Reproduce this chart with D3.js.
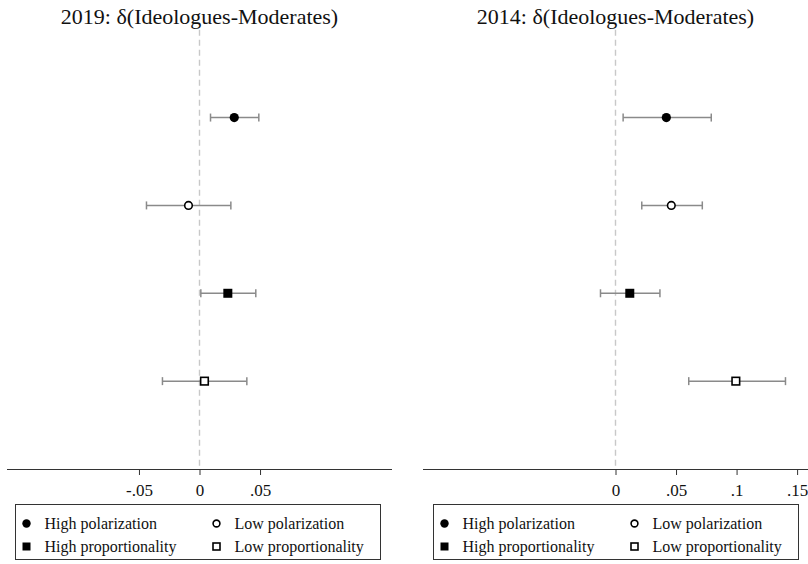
<!DOCTYPE html>
<html>
<head>
<meta charset="utf-8">
<script src="https://cdn.jsdelivr.net/npm/d3@7"></script>
<style>
  html, body { margin: 0; padding: 0; background: #fff; }
  svg { display: block; }
  text { font-family: "Liberation Serif", "Times New Roman", serif; fill: #111; }
</style>
</head>
<body>
<svg id="chart" width="808" height="564"></svg>
<script>
// ---- Data ----
const groups = ["High polarization", "Low polarization", "High proportionality", "Low proportionality"];
const symbols = ["circleFilled", "circleOpen", "squareFilled", "squareOpen"];

const titles = ["2019: δ(Ideologues-Moderates)", "2014: δ(Ideologues-Moderates)"];

const est2019 = [0.0287, -0.0091, 0.0234, 0.0041];
const lo2019  = [0.0091, -0.0438, 0.0011, -0.0306];
const hi2019  = [0.0490, 0.0259, 0.0465, 0.0391];

const est2014 = [0.0420, 0.0461, 0.0118, 0.0994];
const lo2014  = [0.0063, 0.0217, -0.0124, 0.0605];
const hi2014  = [0.0791, 0.0717, 0.0367, 0.1404];

const ticks2019 = [-0.05, 0, 0.05];
const tickLabels2019 = ["-.05", "0", ".05"];
const ticks2014 = [0, 0.05, 0.1, 0.15];
const tickLabels2014 = ["0", ".05", ".1", ".15"];

const xDomain = [-0.159, 0.159];

// ---- Drawing ----
const svg = d3.select("#chart");

const panels = [
  { title: titles[0], est: est2019, lo: lo2019, hi: hi2019, ticks: ticks2019, labels: tickLabels2019, x0: 7, x1: 392, legendX: 15 },
  { title: titles[1], est: est2014, lo: lo2014, hi: hi2014, ticks: ticks2014, labels: tickLabels2014, x0: 423, x1: 808, legendX: 433 }
];

const y = d3.scaleLinear().domain([0, 5]).range([29.7, 469]);
const axisY = 469;

function drawSymbol(g, type, cx, cy, big) {
  const r = big ? 4.6 : 4.2;
  if (type === "circleFilled") {
    g.append("circle").attr("cx", cx).attr("cy", cy).attr("r", r).attr("fill", "#000");
  } else if (type === "circleOpen") {
    g.append("circle").attr("cx", cx).attr("cy", cy).attr("r", r - 0.8)
      .attr("fill", "#fff").attr("stroke", "#000").attr("stroke-width", 1.6);
  } else if (type === "squareFilled") {
    const s = big ? 9 : 8;
    g.append("rect").attr("x", cx - s / 2).attr("y", cy - s / 2).attr("width", s).attr("height", s).attr("fill", "#000");
  } else {
    const s = big ? 7.6 : 7;
    g.append("rect").attr("x", cx - s / 2).attr("y", cy - s / 2).attr("width", s).attr("height", s)
      .attr("fill", "#fff").attr("stroke", "#000").attr("stroke-width", 1.6);
  }
}

panels.forEach(p => {
  const x = d3.scaleLinear().domain(xDomain).range([p.x0, p.x1]);
  const g = svg.append("g");

  // title
  g.append("text")
    .attr("x", (p.x0 + p.x1) / 2)
    .attr("y", 24)
    .attr("text-anchor", "middle")
    .attr("font-size", 22)
    .text(p.title);

  // zero reference line
  g.append("line")
    .attr("x1", x(0)).attr("x2", x(0))
    .attr("y1", y(0)).attr("y2", axisY)
    .attr("stroke", "#c8c8c8").attr("stroke-width", 1.4)
    .attr("stroke-dasharray", "6,4");

  // axis
  const axis = d3.axisBottom(x)
    .tickValues(p.ticks)
    .tickFormat((d, i) => p.labels[i])
    .tickSize(6)
    .tickPadding(9);
  const ag = g.append("g").attr("transform", `translate(0,${axisY})`).call(axis);
  ag.select(".domain").attr("stroke", "#333").attr("stroke-width", 1)
    .attr("d", `M${p.x0},0.5H${p.x1}`);
  ag.selectAll(".tick line").attr("stroke", "#333").attr("stroke-width", 1);
  ag.selectAll(".tick text")
    .attr("font-family", '"Liberation Serif", "Times New Roman", serif')
    .attr("font-size", 17).attr("fill", "#111");

  // CIs and points
  groups.forEach((grp, i) => {
    const cy = y(i + 1);
    g.append("line")
      .attr("x1", x(p.lo[i])).attr("x2", x(p.hi[i]))
      .attr("y1", cy).attr("y2", cy)
      .attr("stroke", "#8a8a8a").attr("stroke-width", 1.5);
    [p.lo[i], p.hi[i]].forEach(v => {
      g.append("line")
        .attr("x1", x(v)).attr("x2", x(v))
        .attr("y1", cy - 4).attr("y2", cy + 4)
        .attr("stroke", "#8a8a8a").attr("stroke-width", 1.5);
    });
    drawSymbol(g, symbols[i], x(p.est[i]), cy, true);
  });

  // legend
  const lx = p.legendX, ly = 504, lw = 365, lh = 55;
  const lg = svg.append("g");
  lg.append("rect").attr("x", lx + 0.5).attr("y", ly + 0.5).attr("width", lw).attr("height", lh)
    .attr("fill", "none").attr("stroke", "#333").attr("stroke-width", 1);
  const cols = [lx + 11.5, lx + 201.5];
  const rows = [ly + 19.5, ly + 42.5];
  groups.forEach((grp, i) => {
    const cx = cols[i % 2];
    const cy = rows[Math.floor(i / 2)];
    drawSymbol(lg, symbols[i], cx, cy, false);
    lg.append("text")
      .attr("x", cx + 18)
      .attr("y", cy + 5.5)
      .attr("font-size", 16)
      .text(grp);
  });
});
</script>
</body>
</html>
